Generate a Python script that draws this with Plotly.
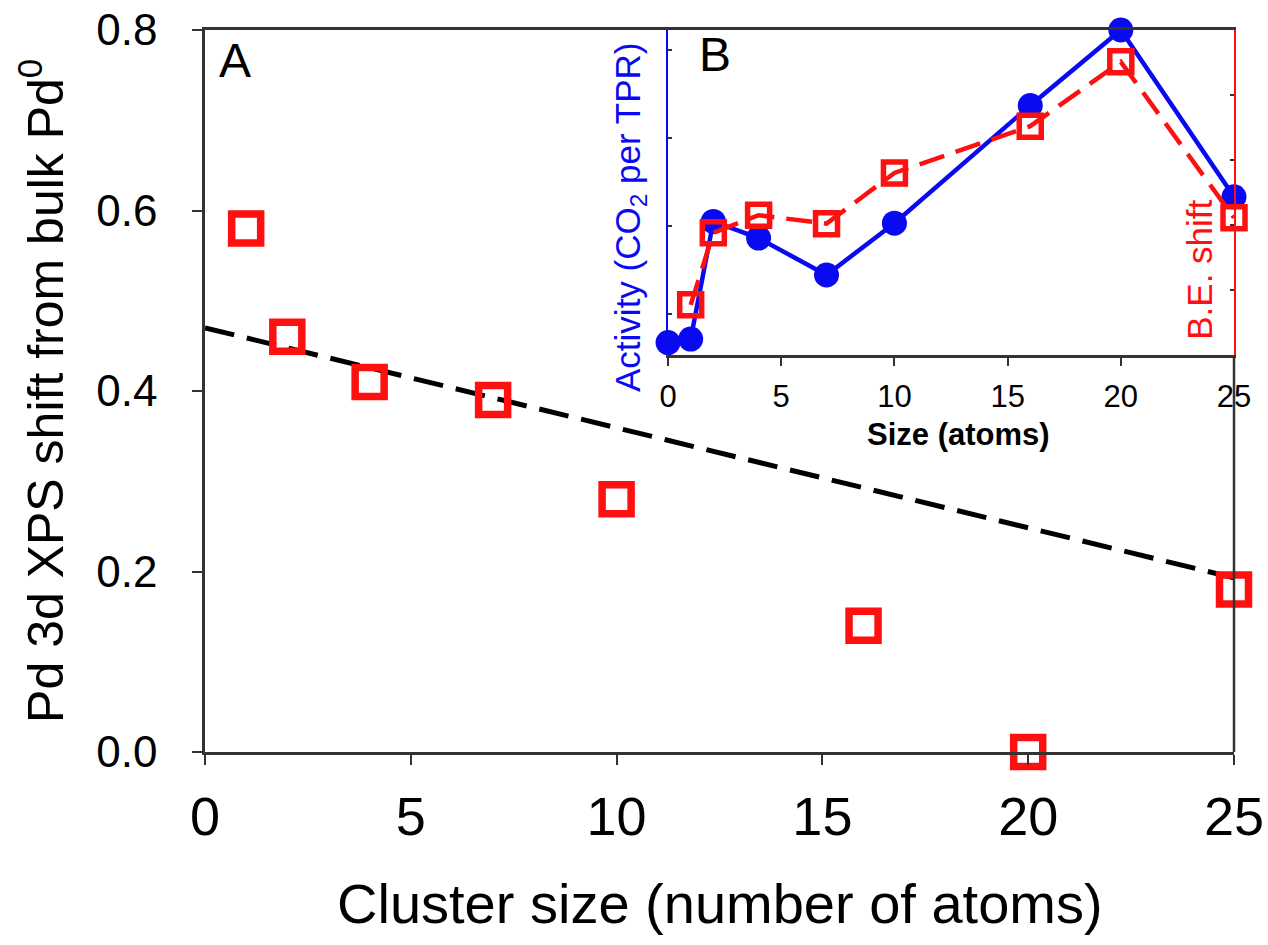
import plotly.graph_objects as go

# Panel A: Pd 3d XPS binding-energy shift vs. cluster size
size_a = [1, 2, 4, 7, 10, 16, 20, 25]
shift_a = [0.58, 0.46, 0.41, 0.39, 0.28, 0.14, 0.0, 0.18]
# linear trend line (end points)
fit_x = [0, 25]
fit_y = [0.47, 0.193]

# Panel B (inset): CO2 activity and B.E. shift vs. size
size_act = [0, 1, 2, 4, 7, 10, 16, 20, 25]
activity = [0.67, 0.71, 2.05, 1.86, 1.44, 2.03, 3.37, 4.23, 2.33]
size_be = [1, 2, 4, 7, 10, 16, 20, 25]
be_shift = [0.423, 0.312, 0.285, 0.298, 0.22, 0.148, 0.049, 0.289]

x_ticks = [0, 5, 10, 15, 20, 25]
y_ticks = [0.0, 0.2, 0.4, 0.6, 0.8]

FONT = "Liberation Sans, Arial, sans-serif"
AXIS = "#333333"
RED = "#ff1010"
BLUE = "#0a0af0"

fig = go.Figure()

fig.add_trace(go.Scatter(
    x=fit_x, y=fit_y, mode="lines",
    line=dict(color="black", width=5, dash="30px,13px"),
    xaxis="x", yaxis="y", hoverinfo="skip",
))
fig.add_trace(go.Scatter(
    x=size_a, y=shift_a, mode="markers",
    marker=dict(symbol="square-open", size=29, color=RED, line=dict(width=7.5)),
    xaxis="x", yaxis="y", cliponaxis=False,
))

fig.add_trace(go.Scatter(
    x=size_act, y=activity, mode="lines+markers",
    line=dict(color=BLUE, width=4.5),
    marker=dict(symbol="circle", size=25, color=BLUE),
    xaxis="x2", yaxis="y2", cliponaxis=False,
))
fig.add_trace(go.Scatter(
    x=size_be, y=be_shift, mode="lines+markers",
    line=dict(color=RED, width=4.5, dash="26px,12px"),
    marker=dict(symbol="square-open", size=22, color=RED, line=dict(width=5.5)),
    xaxis="x2", yaxis="y3", cliponaxis=False,
))

fig.update_layout(
    width=1268, height=945,
    margin=dict(l=205, r=34, t=30, b=193),
    paper_bgcolor="white", plot_bgcolor="white",
    showlegend=False,
    font=dict(family=FONT, color="black"),
    xaxis=dict(
        domain=[0, 1], range=[0, 25], tickvals=x_ticks, automargin=False,
        showline=True, linecolor=AXIS, linewidth=2.5, mirror=True,
        ticks="outside", ticklen=10, tickwidth=2, tickcolor=AXIS,
        tickfont=dict(size=54, family=FONT), ticklabelstandoff=5,
        showgrid=False, zeroline=False,
    ),
    yaxis=dict(
        domain=[0, 1], range=[0, 0.8], tickvals=y_ticks, tickformat=".1f",
        automargin=False,
        showline=True, linecolor=AXIS, linewidth=2.5,
        ticks="outside", ticklen=10, tickwidth=2, tickcolor=AXIS,
        tickfont=dict(size=44, family=FONT), ticklabelstandoff=26,
        showgrid=False, zeroline=False,
    ),
    xaxis2=dict(
        domain=[0.45, 1.0], anchor="y2", range=[0, 25], tickvals=x_ticks,
        automargin=False,
        showline=True, linecolor=AXIS, linewidth=2.5, mirror=True,
        ticks="outside", ticklen=8, tickwidth=2, tickcolor=AXIS,
        tickfont=dict(size=31, family=FONT), ticklabelstandoff=4,
        showgrid=False, zeroline=False,
    ),
    yaxis2=dict(
        domain=[0.55, 1.0], anchor="x2", range=[0.53, 4.23], dtick=1,
        automargin=False,
        showline=True, linecolor=BLUE, linewidth=1.5,
        ticks="inside", ticklen=4, tickwidth=1.5, tickcolor=AXIS,
        showticklabels=False, showgrid=False, zeroline=False,
    ),
    yaxis3=dict(
        overlaying="y2", anchor="x2", side="right", range=[0.5, 0.0], dtick=0.1,
        automargin=False,
        showline=True, linecolor=RED, linewidth=2,
        ticks="inside", ticklen=4, tickwidth=1.5, tickcolor=AXIS,
        showticklabels=False, showgrid=False, zeroline=False,
    ),
)

# right spine of panel A below the inset
fig.add_shape(type="line", xref="paper", yref="paper",
              x0=1, x1=1, y0=0, y1=0.55, line=dict(color=AXIS, width=2.5))

ann = [
    dict(text="Pd 3d XPS shift from bulk Pd<sup>0</sup>", x=-0.1585, y=0.5,
         textangle=-90, font=dict(size=50)),
    dict(text="Cluster size (number of atoms)", x=0.5005, y=-0.21,
         font=dict(size=56)),
    dict(text="A", x=0.0292, y=0.958, font=dict(size=48)),
    dict(text="B", x=0.496, y=0.966, font=dict(size=48)),
    dict(text="Activity (CO<sub>2</sub> per TPR)", x=0.413, y=0.741,
         textangle=-90, font=dict(size=35, color=BLUE)),
    dict(text="B.E. shift", x=0.967, y=0.668,
         textangle=-90, font=dict(size=35, color=RED)),
    dict(text="<b>Size (atoms)</b>", x=0.7318, y=0.4404,
         font=dict(size=31)),
]
for a in ann:
    fig.add_annotation(xref="paper", yref="paper", showarrow=False,
                       xanchor="center", yanchor="middle", **a)

fig.write_html("out.html")
